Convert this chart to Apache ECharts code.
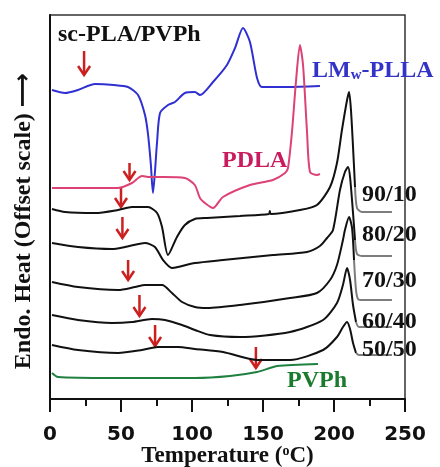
<!DOCTYPE html>
<html>
<head>
<meta charset="utf-8">
<script src="https://cdn.jsdelivr.net/npm/echarts@6/dist/echarts.min.js"></script>
<style>
  html, body { margin: 0; padding: 0; background: #fff; }
  #chart { width: 440px; height: 467px; }
</style>
</head>
<body>
<div id="chart"></div>
<script>
(function(){
  'use strict';

  // DSC heating scans, [temperature (C), offset heat (arb.)]
  var lmwPlla = [[1.4,309],[10.6,306],[19.7,309],[31.7,315],[45,314],[54.9,312],[62,304],[66.9,284],[69,265],[71,235],[72.5,206],[73.8,225],[75.4,257],[77.5,286],[83.1,294],[88,297],[95,306],[102,307],[105.6,304],[114.8,317],[124.6,334],[130.3,351],[135.9,371],[140.8,357],[145.8,321],[149.3,312],[166.9,312],[190.1,313]];
  var pdla = [[1.4,211],[20,211],[47.9,211],[57.7,216],[64.8,223],[70,222],[80,222],[95,221],[102,214],[105.6,201],[110,195],[114.8,191],[121.8,202],[140.8,214],[157,219],[165.5,226],[167.6,231],[170.4,267],[173.2,317],[176,354],[178.2,334],[181,267],[183.1,227],[188,224],[190.1,225]];
  var blend9010 = [[1.4,190],[10.6,187],[31.7,186],[47.9,189],[57.7,192],[69,192],[75.4,186],[78.9,172],[83.1,144],[89.4,162],[95,174],[102,180],[110.6,181],[133.8,183],[154.2,185],[154.8,188],[155.4,185],[176,189],[188,194],[197.2,212],[202.1,236],[205.6,269],[209.2,299],[210.6,307],[211.9,290],[213.4,252],[214.8,212],[216.2,191],[219.7,187],[240.8,187]];
  var blend8020 = [[1.4,156],[19.7,152],[43.7,150],[52.8,152],[66.9,156],[73.9,152],[79.6,139],[85.9,131],[90.1,132],[102.1,136],[121.8,139],[157,144],[181,147],[190.1,153],[195.1,161],[199.3,169],[204.2,209],[207.7,227],[209.9,232],[211.3,222],[213.4,186],[214.8,159],[216.2,145],[219.7,143],[240.8,143]];
  var blend7030 = [[1.4,117],[19.7,112],[47.9,109],[59.9,112],[66.9,114],[78.9,114],[85.9,106],[93,97],[102.1,92],[110.6,91],[133.8,94],[169,101],[188,106],[197.2,119],[202.1,134],[206.3,159],[207.7,169],[210.6,182],[212.7,171],[214.1,139],[215.5,109],[216.9,100],[219.7,99],[240.8,99]];
  var blend6040 = [[1.4,84],[19.7,79],[43.7,76],[57.7,77],[71.8,80],[81,79],[93,74],[102.1,69],[112.7,64],[133.8,62],[169,67],[192.3,79],[202.1,96],[206.3,114],[209.2,131],[211.3,119],[213.4,94],[215.5,77],[217.6,72],[240.8,72]];
  var blend5050 = [[1.4,54],[19.7,49],[47.9,46],[64.8,49],[76,52],[90.1,52],[102.1,50],[121.8,47],[145.8,39],[169,39],[192.3,49],[202.1,62],[206.3,72],[209.2,77],[211.3,70],[213.4,56],[215.5,46],[217.6,44],[240.8,44]];
  var pvph = [[1.4,26],[5.6,22],[43.7,21],[102.1,21],[126.8,23],[145.8,27],[154.9,31],[159.9,33],[188.7,35]];

  // Tg markers: temperature, arrow top, arrow tip
  var arrowTemps = [24, 56, 50, 51, 55, 63, 74, 145];
  var arrowTops  = [348, 236, 212, 182, 139, 104, 74, 52];
  var arrowTips  = [324, 219, 192, 161, 119, 83, 53, 31];

  var xTicks = [0, 50, 100, 150, 200, 250];

  var serif = '"Liberation Serif", "Times New Roman", serif';
  var arrowRed = '#cc1f1f';
  var tailFrom = 213.5; // blend traces fade to grey past the melting peak

  var arrowData = arrowTemps.map(function(t, i){
    return [t, arrowTops[i], arrowTips[i]];
  });

  function curve(name, data, color){
    return {
      name: name,
      type: 'line',
      data: data,
      smooth: 0.25,
      showSymbol: false,
      silent: true,
      lineStyle: { color: color, width: 2 },
      itemStyle: { color: color }
    };
  }

  function blend(name, data){
    var i = 0;
    while (i < data.length && data[i][0] < tailFrom) i++;
    return [
      curve(name, data.slice(0, i + 1), '#111'),
      curve(name + ' tail', data.slice(i), '#7d7d7d')
    ];
  }

  function label(text, x, y, color, rich){
    return {
      type: 'text',
      x: x,
      y: y,
      z: 10,
      style: {
        text: text,
        fill: color,
        font: 'bold 24px ' + serif,
        verticalAlign: 'middle',
        align: 'left',
        rich: rich
      }
    };
  }

  var chart = echarts.init(document.getElementById('chart'));

  var series = [
    curve('LMw-PLLA', lmwPlla, '#2f2fd2'),
    curve('PDLA', pdla, '#dc4274')
  ]
    .concat(blend('90/10', blend9010))
    .concat(blend('80/20', blend8020))
    .concat(blend('70/30', blend7030))
    .concat(blend('60/40', blend6040))
    .concat(blend('50/50', blend5050))
    .concat([curve('PVPh', pvph, '#1f8040')]);

  series.push({
    name: 'Tg',
    type: 'custom',
    silent: true,
    data: arrowData,
    renderItem: function(params, api){
      var top = api.coord([api.value(0), api.value(1)]);
      var tip = api.coord([api.value(0), api.value(2)]);
      var st = { stroke: arrowRed, lineWidth: 2.5, fill: null };
      return {
        type: 'group',
        children: [
          { type: 'line', shape: { x1: top[0], y1: top[1], x2: tip[0], y2: tip[1] }, style: st },
          { type: 'polyline', shape: { points: [[tip[0] - 6, tip[1] - 9], [tip[0], tip[1]], [tip[0] + 6, tip[1] - 9]] }, style: st }
        ]
      };
    }
  });

  var options = {
    animation: false,
    backgroundColor: '#fff',
    grid: {
      left: 50,
      right: 35,
      top: 15,
      bottom: 68,
      containLabel: false,
      outerBoundsMode: 'none',
      show: true,
      borderColor: '#333',
      borderWidth: 1.5
    },
    xAxis: {
      type: 'value',
      min: 0,
      max: 250,
      interval: 50,
      name: '{t|Temperature (}{s|o}{t|C)}',
      nameLocation: 'middle',
      nameGap: 45,
      nameMoveOverlap: false,
      nameTextStyle: {
        rich: {
          t: { fontFamily: serif, fontWeight: 'bold', fontSize: 23, color: '#111' },
          s: { fontFamily: serif, fontWeight: 'bold', fontSize: 14, color: '#111', verticalAlign: 'top', padding: [0, 0, 10, 0] }
        }
      },
      axisLine: { lineStyle: { color: '#111', width: 2 } },
      axisTick: { inside: false, length: 13, lineStyle: { color: '#111', width: 2 } },
      minorTick: { show: true, splitNumber: 2, length: 7, lineStyle: { color: '#111', width: 2 } },
      axisLabel: {
        margin: 26,
        color: '#111',
        fontFamily: '"DejaVu Sans", sans-serif',
        fontWeight: 'bold',
        fontSize: 20,
        formatter: function(v){ return xTicks.indexOf(v) >= 0 ? String(v) : ''; }
      },
      splitLine: { show: false }
    },
    yAxis: {
      type: 'value',
      min: 0,
      max: 384,
      name: '{t|Endo. Heat (Offset scale) }{a|⟶}',
      nameLocation: 'middle',
      nameGap: 14,
      nameRotate: 90,
      nameMoveOverlap: false,
      nameTextStyle: {
        padding: [0, 28, 0, 0],
        rich: {
          t: { fontFamily: serif, fontWeight: 'bold', fontSize: 24, color: '#111' },
          a: { fontFamily: '"DejaVu Sans", sans-serif', fontWeight: 'bold', fontSize: 24, color: '#111' }
        }
      },
      axisLine: { show: true, lineStyle: { color: '#111', width: 2 } },
      axisTick: { show: false },
      axisLabel: { show: false },
      splitLine: { show: false }
    },
    series: series,
    graphic: [
      label('sc-PLA/PVPh', 58, 35, '#111'),
      label('{a|LM}{s|w}{a|-PLLA}', 312, 71, '#3333c8', {
        a: { font: 'bold 24px ' + serif, fill: '#3333c8' },
        s: { font: 'bold 15px ' + serif, fill: '#3333c8', verticalAlign: 'bottom', padding: [8, 0, 0, 0] }
      }),
      label('PDLA', 222, 161, '#c81c5e'),
      label('90/10', 362, 195, '#111'),
      label('80/20', 362, 235, '#111'),
      label('70/30', 362, 281, '#111'),
      label('60/40', 362, 322, '#111'),
      label('50/50', 362, 350, '#111'),
      label('PVPh', 287, 381, '#1a7a2e')
    ]
  };

  chart.setOption(options);
})();
</script>
</body>
</html>
